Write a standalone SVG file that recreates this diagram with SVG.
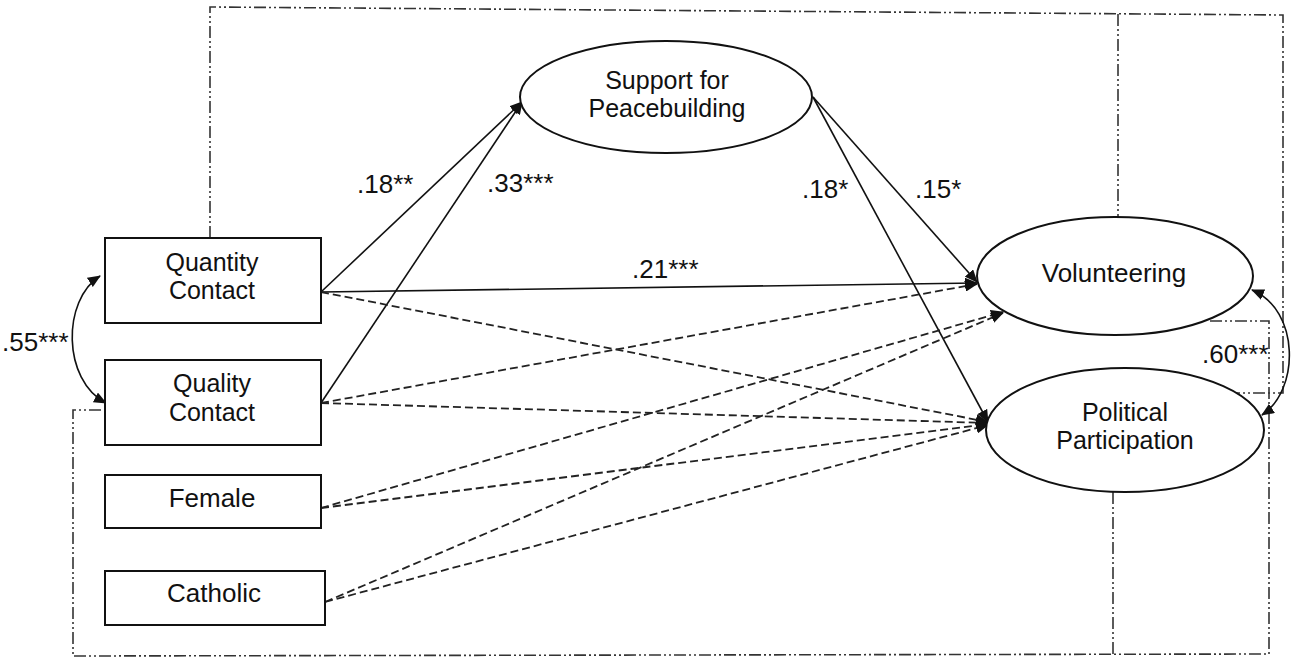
<svg xmlns="http://www.w3.org/2000/svg" width="1299" height="669" viewBox="0 0 1299 669">
<style>
.box{fill:#fff;stroke:#111;stroke-width:2}
.ell{fill:#fff;stroke:#111;stroke-width:2}
.t{font-family:"Liberation Sans",Arial,sans-serif;font-size:26px;fill:#111}
.m{font-size:25px}
.c{text-anchor:middle}
.frame{fill:none;stroke:#333;stroke-width:1.6;stroke-dasharray:12 3 2 3 2 3}
.solid{fill:none;stroke:#111;stroke-width:1.6}
.dash{fill:none;stroke:#222;stroke-width:1.8;stroke-dasharray:8 4}
</style>
<defs>
<marker id="ah" viewBox="0 0 13 11" refX="12" refY="5.5" markerWidth="13" markerHeight="11" markerUnits="userSpaceOnUse" orient="auto-start-reverse">
<path d="M0,0 L13,5.5 L0,11 z" fill="#111"/>
</marker>
</defs>
<rect width="1299" height="669" fill="#fff"/>
<g id="frame">
<path class="frame" d="M210,238 L210,7 L1283,15 L1283,393 L1235,393"/>
<path class="frame" d="M1118,14 L1118,217"/>
<path class="frame" d="M1210,321 L1269,321 L1269,654 L73,656 L73,410 L105,410"/>
<path class="frame" d="M1113,492 L1113,654"/>
</g>
<g id="connectors">
<path class="solid" marker-end="url(#ah)" d="M321,292 L522,102"/>
<path class="solid" marker-end="url(#ah)" d="M321,403 L522,102"/>
<path class="solid" marker-end="url(#ah)" d="M321,292 L977,283"/>
<path class="solid" marker-end="url(#ah)" d="M813,97 L977,282"/>
<path class="solid" marker-end="url(#ah)" d="M813,97 L988,422"/>
<path class="dash" marker-end="url(#ah)" d="M321,292 L988,422"/>
<path class="dash" marker-end="url(#ah)" d="M321,403 L977,284"/>
<path class="dash" marker-end="url(#ah)" d="M321,403 L988,423"/>
<path class="dash" marker-end="url(#ah)" d="M321,508 L1003,312"/>
<path class="dash" marker-end="url(#ah)" d="M321,508 L988,424"/>
<path class="dash" marker-end="url(#ah)" d="M325,602 L1003,313"/>
<path class="dash" marker-end="url(#ah)" d="M325,602 L988,425"/>
<path class="solid" marker-start="url(#ah)" marker-end="url(#ah)" d="M100,276 C62,300 62,380 106,403"/>
<path class="solid" marker-start="url(#ah)" marker-end="url(#ah)" d="M1252,290 C1300,310 1300,390 1262,415"/>
</g>
<g id="labels">
<text class="t" x="357" y="193">.18**</text>
<text class="t" x="487" y="192">.33***</text>
<text class="t" x="802" y="198">.18*</text>
<text class="t" x="915" y="198">.15*</text>
<text class="t" x="632" y="278">.21***</text>
<text class="t" x="1202" y="363">.60***</text>
<text class="t" x="2" y="351">.55***</text>
</g>
<g id="quantity">
<rect class="box" x="105" y="238" width="216" height="85"/>
<text class="t m c" x="212" y="271">Quantity</text>
<text class="t m c" x="212" y="299">Contact</text>
</g>
<g id="quality">
<rect class="box" x="105" y="360" width="216" height="85"/>
<text class="t m c" x="212" y="392">Quality</text>
<text class="t m c" x="212" y="421">Contact</text>
</g>
<g id="female">
<rect class="box" x="105" y="475" width="216" height="53"/>
<text class="t c" x="212" y="507">Female</text>
</g>
<g id="catholic">
<rect class="box" x="105" y="571" width="220" height="54"/>
<text class="t c" x="214" y="602">Catholic</text>
</g>
<g id="support">
<ellipse class="ell" cx="666" cy="97" rx="146" ry="56"/>
<text class="t m c" x="667" y="89">Support for</text>
<text class="t m c" x="667" y="117">Peacebuilding</text>
</g>
<g id="volunteering">
<ellipse class="ell" cx="1115" cy="276" rx="138" ry="59"/>
<text class="t c" x="1114" y="282">Volunteering</text>
</g>
<g id="political">
<ellipse class="ell" cx="1125" cy="430" rx="139" ry="62"/>
<text class="t m c" x="1125" y="421">Political</text>
<text class="t m c" x="1125" y="449">Participation</text>
</g>
</svg>
